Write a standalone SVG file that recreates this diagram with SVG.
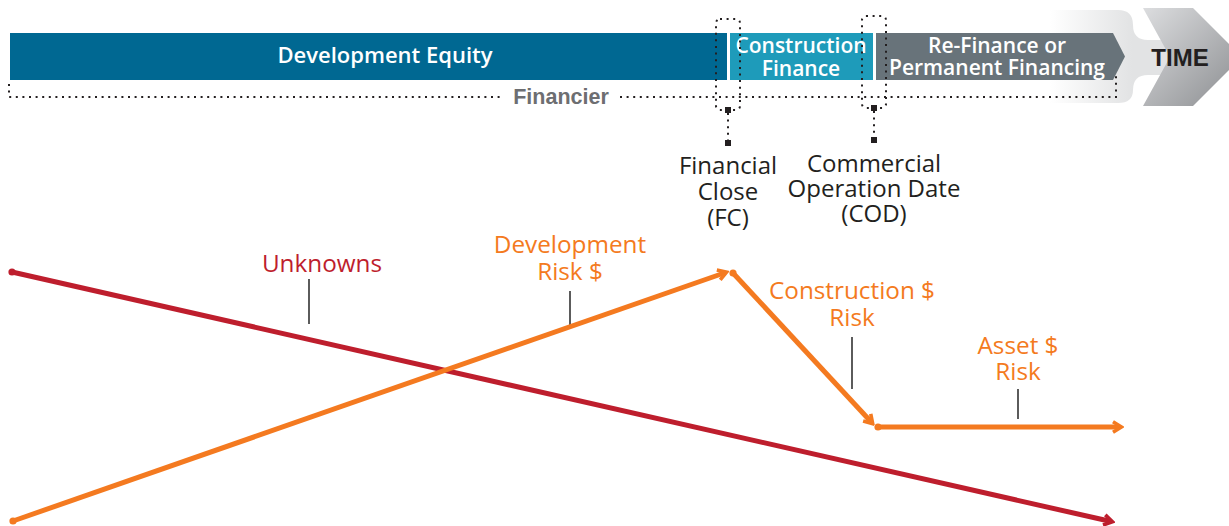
<svg xmlns="http://www.w3.org/2000/svg" width="1229" height="526" viewBox="0 0 1229 526">
  <defs>
    <style>
      .bartxt { font-family: "Open Sans", "Liberation Sans", sans-serif; font-weight: 600; font-size: 21px; fill: #ffffff; text-anchor: middle; }
      .big { font-size: 22px; }
      .mile { font-family: "Open Sans", "Liberation Sans", sans-serif; font-size: 24px; fill: #231f20; text-anchor: middle; }
      .risk { font-family: "Open Sans", "Liberation Sans", sans-serif; font-size: 24.3px; text-anchor: middle; }
      .dot { fill: none; stroke: #231f20; stroke-width: 2; stroke-dasharray: 2 4.6; }
      .lead { stroke: #333333; stroke-width: 1.6; }
      .red { stroke: #be1e2d; stroke-width: 5; fill: none; }
      .orange { stroke: #f47a20; stroke-width: 5; fill: none; }
    </style>
    <linearGradient id="bandGrad" x1="1050" y1="0" x2="1132" y2="0" gradientUnits="userSpaceOnUse">
      <stop offset="0" stop-color="#ffffff"/>
      <stop offset="1" stop-color="#e2e3e4"/>
    </linearGradient>
    <linearGradient id="chevGrad" x1="1143" y1="8" x2="1235" y2="100" gradientUnits="userSpaceOnUse">
      <stop offset="0" stop-color="#dcdddf"/>
      <stop offset="1" stop-color="#8f9194"/>
    </linearGradient>
    <marker id="arrOrange" viewBox="0 0 14 14" refX="9" refY="7" markerWidth="14" markerHeight="14" markerUnits="userSpaceOnUse" orient="auto">
      <path d="M3,1.8 L11.5,7 L3,12.2" fill="none" stroke="#f47a20" stroke-width="3.6"/>
    </marker>
    <marker id="arrRed" viewBox="0 0 14 14" refX="9" refY="7" markerWidth="14" markerHeight="14" markerUnits="userSpaceOnUse" orient="auto">
      <path d="M3,1.8 L11.5,7 L3,12.2" fill="none" stroke="#be1e2d" stroke-width="3.6"/>
    </marker>
  </defs>

  <!-- TIME arrow -->
  <g id="time">
    <path d="M1050,10 H1118 Q1133,10 1133,25 Q1133,40 1148,40 H1175 V75 H1148 Q1133,75 1133,90 Q1133,103 1118,103 H1050 Z" fill="url(#bandGrad)"/>
    <polygon points="1143,8 1193,8 1242,57 1193,106 1143,106 1170,57" fill="url(#chevGrad)"/>
    <text x="1180" y="66" font-family="Liberation Sans, Arial, sans-serif" font-weight="700" font-size="24" fill="#231f20" text-anchor="middle">TIME</text>
  </g>

  <!-- bars -->
  <g id="dev-equity">
    <rect x="10" y="33" width="717" height="47" fill="#006892"/>
    <text class="bartxt big" x="385" y="63">Development Equity</text>
  </g>
  <g id="construction-finance">
    <rect x="730" y="33" width="143" height="47" fill="#1e9bba"/>
    <text class="bartxt" x="801" y="53">Construction</text>
    <text class="bartxt" x="801" y="76">Finance</text>
  </g>
  <g id="refinance">
    <polygon points="876,33 1113,33 1125,56.5 1113,80 876,80" fill="#68737a"/>
    <text class="bartxt" x="997" y="53">Re-Finance or</text>
    <text class="bartxt" x="997" y="75">Permanent Financing</text>
  </g>

  <!-- financier -->
  <g id="financier">
    <path class="dot" d="M9,84 V97 H503"/>
    <path class="dot" d="M620,97 H1116 V73"/>
    <text x="561" y="104" font-family="Liberation Sans, Arial, sans-serif" font-weight="700" font-size="21.5" fill="#6d6e71" text-anchor="middle">Financier</text>
  </g>

  <!-- milestones -->
  <g id="fc">
    <rect class="dot" x="716" y="19" width="24" height="91" rx="4"/>
    <rect x="725" y="107" width="6" height="6" fill="#231f20"/>
    <path class="dot" d="M728,113 V140"/>
    <rect x="725" y="140" width="6" height="6" fill="#231f20"/>
    <text class="mile" x="728" y="174">Financial</text>
    <text class="mile" x="728" y="200">Close</text>
    <text class="mile" x="728" y="226">(FC)</text>
  </g>
  <g id="cod">
    <rect class="dot" x="862" y="16" width="24" height="92" rx="4"/>
    <rect x="871" y="105" width="6" height="6" fill="#231f20"/>
    <path class="dot" d="M874,111 V137"/>
    <rect x="871" y="137" width="6" height="6" fill="#231f20"/>
    <text class="mile" x="874" y="172">Commercial</text>
    <text class="mile" x="874" y="197">Operation Date</text>
    <text class="mile" x="874" y="222">(COD)</text>
  </g>

  <!-- risk labels -->
  <g id="unknowns">
    <text class="risk" x="322" y="272" fill="#be1e2d">Unknowns</text>
    <line class="lead" x1="309" y1="279" x2="309" y2="324"/>
  </g>
  <g id="development-risk">
    <text class="risk" x="570" y="253" fill="#f47a20">Development</text>
    <text class="risk" x="570" y="280" fill="#f47a20">Risk $</text>
    <line class="lead" x1="570" y1="291" x2="570" y2="329"/>
  </g>
  <g id="construction-risk">
    <text class="risk" x="852" y="299" fill="#f47a20">Construction $</text>
    <text class="risk" x="852" y="326" fill="#f47a20">Risk</text>
    <line class="lead" x1="852" y1="337" x2="852" y2="389"/>
  </g>
  <g id="asset-risk">
    <text class="risk" x="1018" y="354" fill="#f47a20">Asset $</text>
    <text class="risk" x="1018" y="380" fill="#f47a20">Risk</text>
    <line class="lead" x1="1018" y1="389" x2="1018" y2="419"/>
  </g>

  <!-- connectors -->
  <g id="connectors">
    <line class="red" x1="12" y1="272" x2="1110" y2="521.3" marker-end="url(#arrRed)"/>
    <circle cx="12" cy="272" r="3.6" fill="#be1e2d"/>
    <line class="orange" x1="13" y1="521" x2="724.2" y2="273" marker-end="url(#arrOrange)"/>
    <circle cx="13" cy="521" r="3.6" fill="#f47a20"/>
    <line class="orange" x1="733" y1="273" x2="871" y2="421.8" marker-end="url(#arrOrange)"/>
    <circle cx="733" cy="273" r="3.6" fill="#f47a20"/>
    <line class="orange" x1="878" y1="427" x2="1119" y2="427" marker-end="url(#arrOrange)"/>
    <circle cx="878" cy="427" r="3.6" fill="#f47a20"/>
  </g>
</svg>
